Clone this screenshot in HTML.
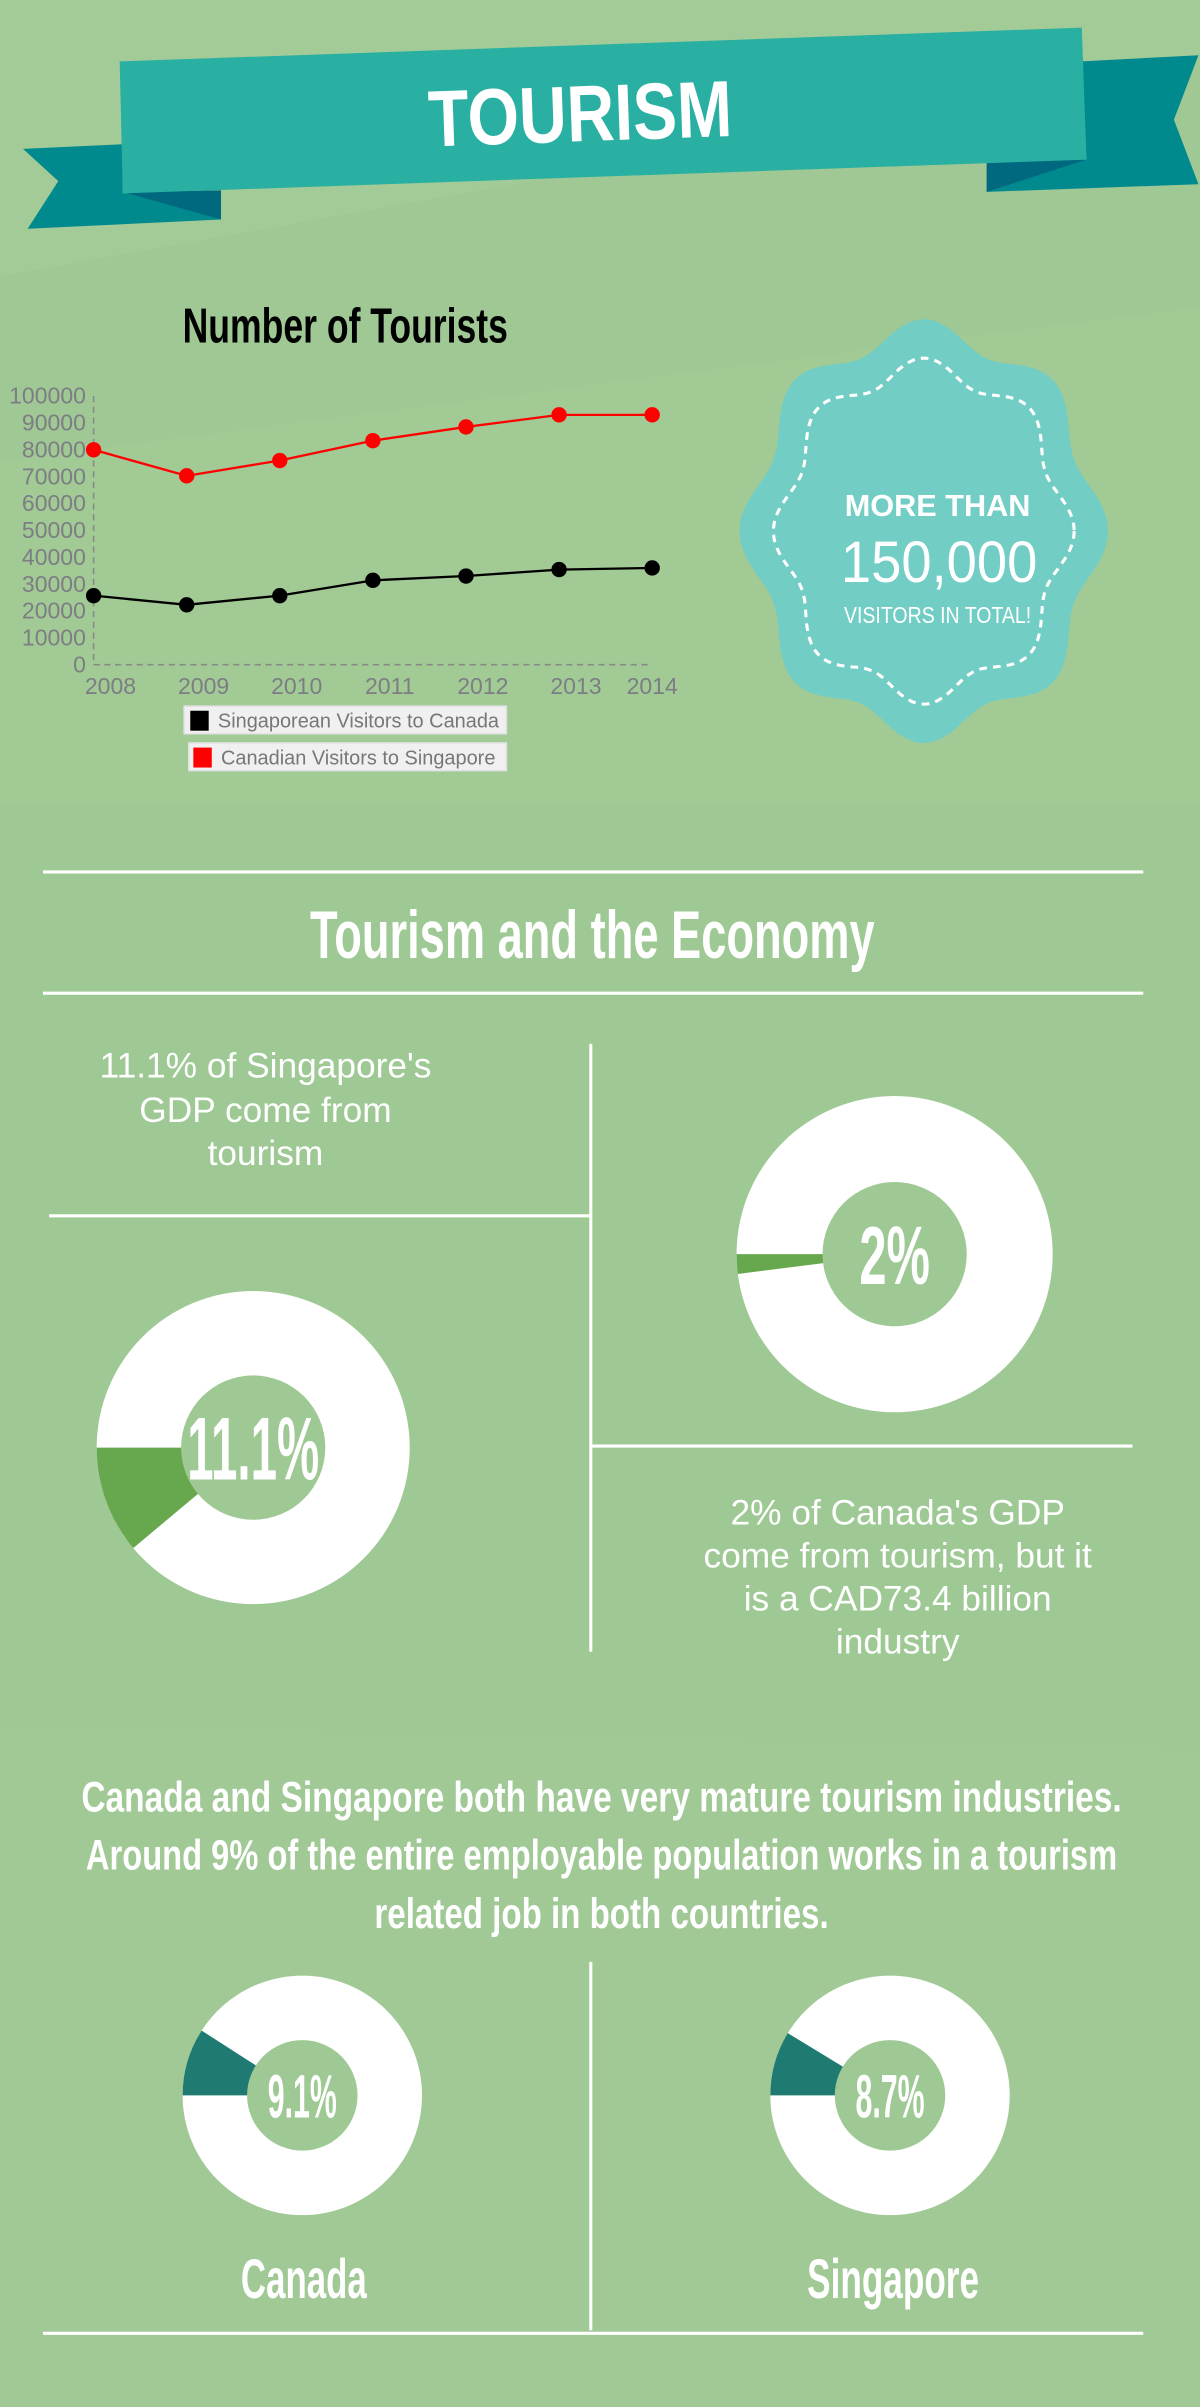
<!DOCTYPE html>
<html><head><meta charset="utf-8"><style>
html,body{margin:0;padding:0;background:#a0c994;}
svg{display:block}
.cond{font-family:"Liberation Sans Narrow","Liberation Sans",sans-serif;font-weight:bold}
.thin{font-family:"Liberation Sans",sans-serif;font-weight:normal}
</style></head><body>
<svg id="page" width="1200" height="2407" viewBox="0 0 782 1568" preserveAspectRatio="none" xmlns="http://www.w3.org/2000/svg">
<rect x="0" y="0" width="782" height="1568" fill="#9fc894"/>
<polygon points="0,0 782,0 782,40 0,180" fill="#a3cb97"/>
<polygon points="0,300 782,200 782,525 0,525" fill="#a1ca95"/>
<rect x="0" y="525" width="782" height="600" fill="#9fc994"/>
<polygon points="0,1125 782,1140 782,1568 0,1568" fill="#a0c995"/>

<g>
<polygon points="15,97 80,94 80,126 144,124 144,143 18,149 38,118" fill="#008a8e"/>
<polygon points="80,125 144,124 144,143" fill="#00697f"/>
<polygon points="705,40 781,36 765,78 781,120 643,125 643,104 708,104" fill="#008a8e"/>
<polygon points="708,104 643,105 643,125" fill="#00697f"/>
<polygon points="78,40 705,18 708,104 80,126" fill="#2ab0a2"/>
<text class="cond" x="378" y="92" text-anchor="middle" font-size="52" fill="#fff" textLength="198" lengthAdjust="spacingAndGlyphs" transform="rotate(-2 378 72)">TOURISM</text>
</g>

<g id="chart">
<text class="cond" x="225" y="223" text-anchor="middle" font-size="32" fill="#000" textLength="212" lengthAdjust="spacingAndGlyphs">Number of Tourists</text>
<g id="axes"></g>
<g id="series"></g>
<g>
<g>
<rect x="120" y="460" width="210" height="18" fill="#f0f0f0" stroke="#e2e2e2"/>
<rect x="124" y="463" width="12" height="13" fill="#000"/>
<text x="142" y="474" font-family="Liberation Sans Narrow,Liberation Sans,sans-serif" font-size="13" fill="#777">Singaporean Visitors to Canada</text>
</g>
<g>
<rect x="123" y="484" width="207" height="18" fill="#f0f0f0" stroke="#e2e2e2"/>
<rect x="126" y="487" width="12" height="13" fill="#f00"/>
<text x="144" y="498" font-family="Liberation Sans Narrow,Liberation Sans,sans-serif" font-size="13" fill="#777">Canadian Visitors to Singapore</text>
</g>
</g>
</g>

<g>
<path id="badgeOuter" fill="#72cdc4"/>
<path id="badgeInner" fill="none" stroke="#fff" stroke-width="2" stroke-dasharray="5,4"/>
<text x="611" y="336" text-anchor="middle" font-family="Liberation Sans,sans-serif" font-weight="bold" font-size="20" fill="#fff" textLength="121" lengthAdjust="spacingAndGlyphs">MORE THAN</text>
<text x="612" y="379" text-anchor="middle" font-family="Liberation Sans,sans-serif" font-size="38" fill="#fff" textLength="128" lengthAdjust="spacingAndGlyphs">150,000</text>
<text x="611" y="406" text-anchor="middle" font-family="Liberation Sans,sans-serif" font-size="15" fill="#fff" textLength="122" lengthAdjust="spacingAndGlyphs">VISITORS IN TOTAL!</text>
</g>

<g>
<line x1="28" y1="568" x2="745" y2="568" stroke="#fff" stroke-width="2"/>
<text class="cond" x="386" y="624" text-anchor="middle" font-size="44" fill="#fff" textLength="368" lengthAdjust="spacingAndGlyphs">Tourism and the Economy</text>
<line x1="28" y1="647" x2="745" y2="647" stroke="#fff" stroke-width="2"/>
<line x1="385" y1="680" x2="385" y2="1076" stroke="#fff" stroke-width="2"/>
<line x1="32" y1="792" x2="385" y2="792" stroke="#fff" stroke-width="2"/>
<line x1="385" y1="942" x2="738" y2="942" stroke="#fff" stroke-width="2"/>
<g class="thin" font-size="23" fill="#fff" text-anchor="middle">
<text x="173" y="702">11.1% of Singapore's</text>
<text x="173" y="731">GDP come from</text>
<text x="173" y="759">tourism</text>
</g>
<g class="thin" font-size="23" fill="#fff" text-anchor="middle">
<text x="585" y="993">2% of Canada's GDP</text>
<text x="585" y="1021">come from tourism, but it</text>
<text x="585" y="1049">is a CAD73.4 billion</text>
<text x="585" y="1077">industry</text>
</g>
</g>
<g id="donuts"></g>

<g>
<g class="cond" font-size="28" fill="#fff" text-anchor="middle">
<text x="392" y="1180" textLength="678" lengthAdjust="spacingAndGlyphs">Canada and Singapore both have very mature tourism industries.</text>
<text x="392" y="1218" textLength="672" lengthAdjust="spacingAndGlyphs">Around 9% of the entire employable population works in a tourism</text>
<text x="392" y="1256" textLength="296" lengthAdjust="spacingAndGlyphs">related job in both countries.</text>
</g>
<line x1="385" y1="1278" x2="385" y2="1518" stroke="#fff" stroke-width="2"/>
<line x1="28" y1="1520" x2="745" y2="1520" stroke="#fff" stroke-width="2"/>
<text class="cond" x="198" y="1497" text-anchor="middle" font-size="36" fill="#fff" textLength="82" lengthAdjust="spacingAndGlyphs">Canada</text>
<text class="cond" x="582" y="1497" text-anchor="middle" font-size="36" fill="#fff" textLength="112" lengthAdjust="spacingAndGlyphs">Singapore</text>
</g>
</svg>
<script>
const years = ["2008","2009","2010","2011","2012","2013","2014"];
const singaporeanVisitors = [25700, 22300, 25700, 31400, 33000, 35400, 36000];
const canadianVisitors = [80000, 70300, 76000, 83400, 88500, 93000, 93000];
const yTicks = [0,10000,20000,30000,40000,50000,60000,70000,80000,90000,100000];
const donutLabels = ["11.1%","2%","9.1%","8.7%"];
const donutValues = [11.1, 2, 9.1, 8.7];

const NS = "http://www.w3.org/2000/svg";
function mk(tag, attrs, parent){const e=document.createElementNS(NS,tag);for(const k in attrs)e.setAttribute(k,attrs[k]);parent.appendChild(e);return e;}
const x0=61, x1=425, yBase=433, yTop=258, yMax=100000;
const xs = i => x0 + (x1-x0)*i/(years.length-1);
const ys = v => yBase - (yBase-yTop)*v/yMax;
const axes=document.getElementById('axes'), series=document.getElementById('series');
let ax=mk('line',{x1:x0,y1:yTop,x2:x0,y2:yBase,stroke:'#888','stroke-width':1,'stroke-dasharray':'4,3'},axes);


let bx=mk('line',{x1:x0,y1:yBase,x2:x1,y2:yBase,stroke:'#888','stroke-width':1,'stroke-dasharray':'4,3'},axes);


yTicks.forEach(v=>{
  const t=mk('text',{x:56,y:ys(v)+5,'text-anchor':'end','font-family':'Liberation Sans Narrow,Liberation Sans,sans-serif','font-size':15,fill:'#7d7d84'},axes);
  t.textContent=v;
  
  
});
years.forEach((y,i)=>{
  let cx = i===years.length-1 ? xs(i) : xs(i)+11;
  const t=mk('text',{x:cx,y:452,'text-anchor':'middle','font-family':'Liberation Sans Narrow,Liberation Sans,sans-serif','font-size':15,fill:'#7d7d84'},axes);
  t.textContent=y;
  
  
});
function drawSeries(vals,color,name){
  const pl=mk('polyline',{points:vals.map((v,i)=>xs(i)+','+ys(v)).join(' '),fill:'none',stroke:color,'stroke-width':1.5},series);
  
  
  vals.forEach((v,i)=>{
    const c=mk('circle',{cx:xs(i),cy:ys(v),r:5,fill:color},series);
    
    
  });
}
drawSeries(canadianVisitors,'#ff0000','canadian-visitors');
drawSeries(singaporeanVisitors,'#000000','singaporean-visitors');

(function(){
  const cx=602,cy=346;let d='',d2='';
  for(let i=0;i<=360;i++){const a=i*Math.PI/180;
    const r=113+7*Math.cos(8*a), r2=92+6*Math.cos(8*a);
    d+=(i?'L':'M')+(cx+r*Math.cos(a)).toFixed(1)+','+(cy+1.15*r*Math.sin(a)).toFixed(1);
    d2+=(i?'L':'M')+(cx+r2*Math.cos(a)).toFixed(1)+','+(cy+1.15*r2*Math.sin(a)).toFixed(1);}
  document.getElementById('badgeOuter').setAttribute('d',d+'Z');
  document.getElementById('badgeInner').setAttribute('d',d2+'Z');
})();

const dg=document.getElementById('donuts');
const donutGeom=[{cx:165,cy:943,R:102,r:47,dir:-1,col:'#67a84f',fs:58,tw:86},
                 {cx:583,cy:817,R:103,r:47,dir:-1,col:'#67a84f',fs:54,tw:46},
                 {cx:197,cy:1365,R:78,r:36,dir:1,col:'#1f7a72',fs:40,tw:45},
                 {cx:580,cy:1365,R:78,r:36,dir:1,col:'#1f7a72',fs:40,tw:45}];
const donutNames=['singapore-gdp-donut','canada-gdp-donut','canada-employment-donut','singapore-employment-donut'];
donutValues.forEach((v,i)=>{
  const g=donutGeom[i];
  const grp=mk('g',{},dg);
  
  
  const ring=mk('circle',{cx:g.cx,cy:g.cy,r:g.R,fill:'#fff'},grp);
  
  
  const p=(a,r)=>(g.cx+r*Math.cos(a)).toFixed(2)+','+(g.cy+r*Math.sin(a)).toFixed(2);
  const a0=Math.PI;
  const a1s=Math.PI + (g.dir<0?-1:1)*2*Math.PI*v/100;
  const d2='M'+p(a0,g.R)+'A'+g.R+','+g.R+' 0 0 '+(g.dir<0?0:1)+' '+p(a1s,g.R)+'L'+g.cx+','+g.cy+'Z';
  const sl=mk('path',{d:d2,fill:g.col},grp);
  
  
  const hole=mk('circle',{cx:g.cx,cy:g.cy,r:g.r,fill:'#9fc994'},grp);
  
  
  const t=mk('text',{x:g.cx,y:g.cy+g.fs*0.36,'text-anchor':'middle','font-family':'Liberation Sans Narrow,Liberation Sans,sans-serif','font-weight':'bold','font-size':g.fs,fill:'#fff',textLength:g.tw,lengthAdjust:'spacingAndGlyphs'},grp);
  t.textContent=donutLabels[i];
  
  
});
</script>
</body></html>
